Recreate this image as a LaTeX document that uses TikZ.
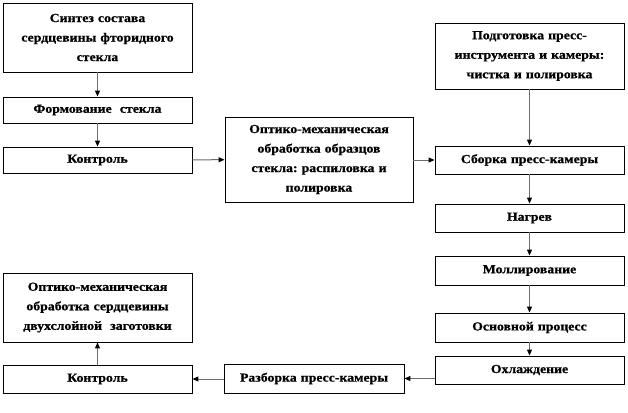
\documentclass[tikz,border=0pt]{standalone}
\usepackage{fontspec}
\setmainfont{Liberation Serif}[BoldFont={Liberation Serif Bold},BoldFeatures={FakeStretch=1.12,FakeBold=0.8}]
\usetikzlibrary{arrows.meta}
\frenchspacing
\begin{document}
\begin{tikzpicture}[x=1bp,y=-1bp,
  box/.style={draw=black,line width=0.9bp,fill=white,align=center,inner sep=2bp,
    font=\fontsize{12.3bp}{19.5bp}\selectfont\bfseries,text width=#1},
  box/.default=184bp,
  arr/.style={draw=gray!85!black,line width=1bp,-{Triangle[length=6bp,width=5bp,color=black]}}]
\useasboundingbox[fill=white] (0,0) rectangle (628,412);
% left column
\node[box,minimum width=189bp,minimum height=69bp] (s1) at (97.5,37.5) {Синтез состава\\сердцевины фторидного\\стекла};
\node[box,minimum width=189bp,minimum height=26bp] (s2) at (97.5,110) {Формование~ стекла};
\node[box,minimum width=189bp,minimum height=26bp] (s3) at (97.5,160) {Контроль};
% centre
\node[box=180bp,minimum width=188bp,minimum height=85bp] (c1) at (319,159.5) {Оптико-механическая\\обработка образцов\\стекла: распиловка и\\полировка};
% right column
\node[box,minimum width=189bp,minimum height=66bp] (r0) at (529.5,56) {Подготовка пресс-\\инструмента и камеры:\\чистка и полировка};
\node[box,minimum width=189bp,minimum height=28bp] (r1) at (529.5,160) {Сборка пресс-камеры};
\node[box,minimum width=189bp,minimum height=28bp] (r2) at (529.5,218) {Нагрев};
\node[box,minimum width=189bp,minimum height=29bp] (r3) at (529.5,270.5) {Моллирование};
\node[box,minimum width=189bp,minimum height=29bp] (r4) at (529.5,327.5) {Основной процесс};
\node[box,minimum width=189bp,minimum height=28bp] (r5) at (529.5,370) {Охлаждение};
% bottom
\node[box=176bp,minimum width=178bp,minimum height=29bp] (b1) at (314,378.5) {Разборка пресс-камеры};
\node[box,minimum width=189bp,minimum height=28bp] (b2) at (97.5,379) {Контроль};
\node[box,minimum width=189bp,minimum height=69bp] (b3) at (97.5,307.5) {Оптико-механическая\\обработка сердцевины\\двухслойной~ заготовки};
% connectors
\draw[arr] (s1) -- (s2);
\draw[arr] (s2) -- (s3);
\draw[arr] (s3) -- (c1);
\draw[arr] (c1.east |- r1) -- (r1);
\draw[arr] (r0) -- (r1);
\draw[arr] (r1) -- (r2);
\draw[arr] (r2) -- (r3);
\draw[arr] (r3) -- (r4);
\draw[arr] (r4) -- (r5);
\draw[arr] (r5.west |- b1) -- (b1);
\draw[arr] (b1.west |- b2) -- (b2);
\draw[arr] (b2) -- (b3);
\end{tikzpicture}
\end{document}
